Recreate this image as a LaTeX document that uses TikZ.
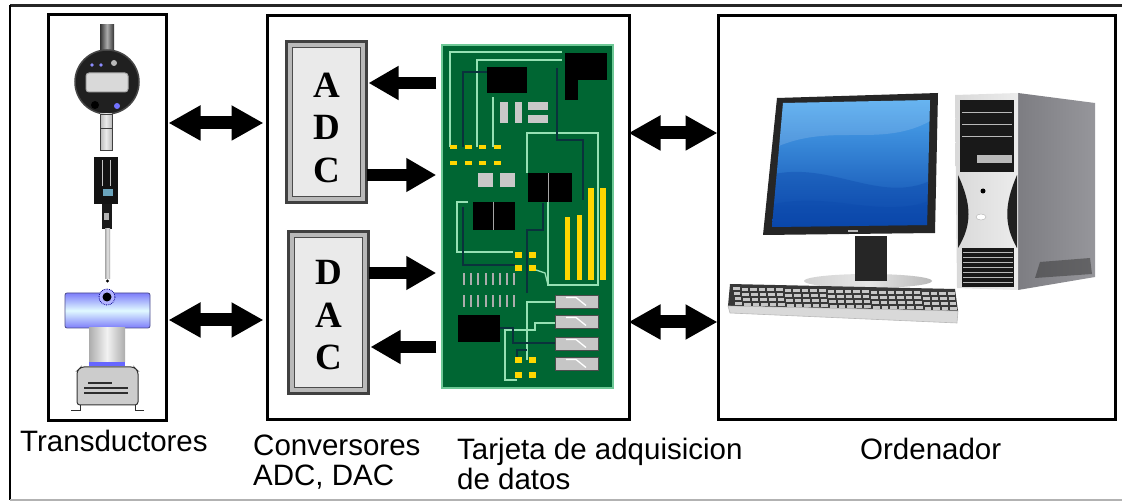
\documentclass[tikz,border=0pt]{standalone}
\usepackage{fontspec}
\setmainfont{Liberation Sans}
\newfontfamily\blockfont{Liberation Serif}
\usetikzlibrary{arrows.meta,calc}

\definecolor{pcbgreen}{RGB}{0,102,51}
\definecolor{pcbedge}{RGB}{110,200,150}
\definecolor{tracelight}{RGB}{150,225,180}
\definecolor{tracedark}{RGB}{10,50,60}
\definecolor{padyellow}{RGB}{255,214,0}
\definecolor{partgray}{RGB}{200,200,200}
\definecolor{boxfill}{RGB}{234,234,234}
\definecolor{screenlight}{RGB}{80,170,240}
\definecolor{screendark}{RGB}{10,70,170}
\definecolor{cylblue}{RGB}{125,125,250}
\definecolor{cylpale}{RGB}{225,250,255}
\definecolor{towerside}{RGB}{125,125,130}
\definecolor{towersidelight}{RGB}{150,150,155}

\begin{document}
\begin{tikzpicture}[x=1pt,y=-1pt,
  blockframe/.style={draw=black, line width=3pt, inner sep=0pt, outer sep=0pt},
  convbox/.style={draw=gray!50!black, line width=3pt, fill=gray!55, inner sep=0pt, outer sep=0pt},
  letters/.style={font=\blockfont\bfseries\fontsize{37}{42.5}\selectfont, align=center, inner sep=0pt},
  caption/.style={font=\fontsize{29.5}{29.5}\selectfont, inner sep=0pt, align=left},
  dblarrow/.style={line width=13pt, {Triangle[length=32pt,width=33pt]}-{Triangle[length=32pt,width=33pt]}},
  sglarrow/.style={line width=12pt, -{Triangle[length=30pt,width=32pt]}},
  chip/.style={fill=black},
  smallpart/.style={fill=partgray},
  pad/.style={fill=padyellow},
  ltrace/.style={draw=tracelight, line width=1.3pt},
  dtrace/.style={draw=tracedark, line width=1.1pt},
  resistor/.style={fill=gray!45, draw=gray!60!black, line width=0.8pt}]

\useasboundingbox (0,0) rectangle (1122,502);
\fill[white] (0,0) rectangle (1122,502);

% outer frame (right side runs past the page)
\draw[black!85, line width=3pt] (1124,6) -- (10,6);
\draw[black, line width=2.5pt] (10,5) -- (10,500);
\draw[gray!60, line width=1.2pt] (10,500) -- (1124,500);

% ---------- main blocks ----------
\node[blockframe, minimum width=118, minimum height=406] (trans) at (107.5,218) {};
\node[blockframe, minimum width=362, minimum height=404] (conv) at (448.5,217.5) {};
\node[blockframe, minimum width=397, minimum height=404] (pc) at (917,217.5) {};

\node[convbox, minimum width=80, minimum height=161] (adc) at (326.5,122) {};
\node[convbox, minimum width=80, minimum height=162] (dac) at (328.5,312.5) {};
\foreach \b in {adc,dac}{
  \filldraw[fill=boxfill, draw=gray!60!black, line width=1pt]
    ($(\b.north west)+(6,6)$) rectangle ($(\b.south east)+(-6,-6)$);
}
\node[letters] (adctxt) at ($(adc.center)+(0,5.5)$) {A\\D\\C};
\node[letters] (dactxt) at ($(dac.center)+(0,3)$) {D\\A\\C};

% ---------- data acquisition board ----------
\node[fill=pcbgreen, draw=pcbedge, line width=1.5pt, inner sep=0pt,
      minimum width=171, minimum height=343] (pcb) at (527.5,216.5) {};

% light traces
\draw[ltrace] (450,147) |- (562,52);
\draw[ltrace] (477,147) |- (562,60);
\draw[ltrace] (493,147) -- (493,97);
\draw[ltrace] (527,173) |- (598,133) -- (598,285) -| (548,202);
\draw[ltrace] (468,202) -| (457,252) -- (513,252);
\draw[ltrace] (536,270) -- (545,273) -- (548,285);
\draw[ltrace] (555,302) -| (527,360);
\draw[ltrace] (555,323) -- (535,323) -- (535,330) -- (505,330) -- (505,380) -- (517,380);
% dark traces
\draw[dtrace] (463,147) |- (487,72);
\draw[dtrace] (557,68) -- (557,140) -- (583,140) -- (583,200);
\draw[dtrace] (463,207) -- (463,265) -- (515,265);
\draw[dtrace] (543,203) -- (543,230) -- (527,230) -- (527,293);
\draw[dtrace] (500,328) -- (513,328) -- (513,343) -- (555,343);
\draw[dtrace] (517,360) -- (517,350) -- (527,350);

% chips
\fill[chip] (487,67) rectangle (527,93);
\fill[chip] (565,53) rectangle (607,80);
\fill[chip] (565,79) rectangle (578,100);
\fill[chip] (528,173) rectangle (572,202);
\draw[gray!70, line width=1pt] (548,173) -- (548,202);
\fill[chip] (473,202) rectangle (515,230);
\draw[gray!70, line width=1pt] (493,202) -- (493,230);
\fill[chip] (458,315) rectangle (500,342);

% small grey parts
\fill[smallpart] (500,102) rectangle (508,123);
\fill[smallpart] (515,102) rectangle (522,123);
\fill[smallpart] (528,102) rectangle (548,110);
\fill[smallpart] (528,115) rectangle (548,123);
\fill[smallpart] (478,173) rectangle (493,187);
\fill[smallpart] (500,173) rectangle (515,187);
\foreach \i in {0,...,7}{
  \fill[gray!65] ({463+\i*7.2},273) rectangle ({465+\i*7.2},285);
  \fill[gray!65] ({463+\i*7.2},295) rectangle ({465+\i*7.2},307);
}

% yellow pads
\foreach \x in {453,468,482,497}{
  \fill[pad] (\x-3.5,145) rectangle (\x+3.5,149.5);
  \fill[pad] (\x-3.5,161) rectangle (\x+3.5,165.5);
}
\foreach \x/\y in {518/255,532/255,518/268,532/268,518/360,532/360,518/375,532/375}{
  \fill[pad] (\x-3.5,\y-2.8) rectangle (\x+3.5,\y+2.8);
}
\fill[pad] (565,217) rectangle (570,280);
\fill[pad] (577,215) rectangle (582,280);
\fill[pad] (588,188) rectangle (594,280);
\fill[pad] (600,188) rectangle (606,280);

% resistors
\foreach \y in {295,315,337,357}{
  \filldraw[resistor] (555,\y) rectangle (598,\y+13);
  \draw[white, line width=1.3pt] (566,\y+2.5) -- (576,\y+2.5) -- (586,\y+10.5);
}

% ---------- transducers ----------
% dial gauge
\shade[left color=gray!40!black, right color=gray!40!black, middle color=gray!65] (100,25) rectangle (114,52);
\filldraw[fill=gray!25!black, draw=gray!55!black, line width=1.5pt] (107,82) circle (32);
\filldraw[fill=gray!30, draw=gray!70, line width=1pt, rounded corners=3pt] (86,73) rectangle (128,92);
\fill[blue!45!white] (92,65) circle (1.8) (101,65) circle (1.8);
\fill[gray!55] (114,63) circle (3);
\fill[black] (95,105) circle (4);
\fill[blue!55!white] (117,106) circle (3);
\shade[left color=gray!55, right color=gray!55, middle color=gray!15] (100,114) rectangle (112,150);
\draw[gray!50!black, line width=0.6pt] (100,128) -- (112,128) (100,114) rectangle (112,150);
% connector body
\fill[gray!15!black] (94,157) rectangle (118,204);
\draw[gray!45, line width=0.7pt] (102,160) -- (102,186) (110,160) -- (110,186);
\fill[cyan!45!gray] (103,189) rectangle (113,196);
\fill[gray!20!black] (102,204) rectangle (112,229);
\fill[gray!60] (104,213) rectangle (109,220);
\shade[left color=gray!70, right color=gray!70, middle color=gray!20] (105,229) rectangle (110,279);
\fill[black] (107.5,281) circle (1.7);
% transmitter housing
\shade[top color=cylblue, bottom color=cylblue, middle color=cylpale, rounded corners=2pt] (65,293) rectangle (150,328);
\draw[blue!35!black!70, line width=0.8pt, rounded corners=2pt] (65,293) rectangle (150,328);
\filldraw[fill=blue!30!white, draw=blue!55!black, densely dotted, line width=0.8pt] (107,297) circle (8);
\fill[black] (107,297) circle (4.5);
\shade[left color=gray!65, right color=gray!65, middle color=gray!10] (89,328) rectangle (125,362);
\fill[blue!60!white] (89,362) rectangle (125,366.5);
\filldraw[fill=gray!40, draw=gray!40!black, line width=1pt, rounded corners=3pt]
  (77,405) -- (77,371) -- (81,367) -- (134,367) -- (138,371) -- (138,405) -- cycle;
\draw[gray!35!black, line width=1.2pt] (88,383) -- (112,383) (84,388) -- (128,388) (84,393) -- (128,393);
\draw[gray!35!black, line width=1pt] (71,411) -- (80,411) -- (80,405) (144,411) -- (135,411) -- (135,405);

% ---------- computer ----------
% monitor
\fill[black!85] (777,98) -- (938,93) -- (935,233) -- (763,235) -- cycle;
\begin{scope}
  \clip (783,103) -- (930,100) -- (927,225) -- (772,227) -- cycle;
  \shade[top color=screenlight, bottom color=screendark] (770,98) rectangle (932,230);
  \fill[white, opacity=0.14] (770,98) -- (932,98) -- (932,120) .. controls (880,150) and (830,120) .. (770,150) -- cycle;
  \fill[screendark, opacity=0.35] (770,175) .. controls (830,160) and (880,205) .. (932,180) -- (932,230) -- (770,230) -- cycle;
  \fill[screendark, opacity=0.3] (770,205) .. controls (830,190) and (880,220) .. (932,200) -- (932,230) -- (770,230) -- cycle;
\end{scope}
\fill[gray!55] (848,230) rectangle (858,232);
% stand
\shade[left color=gray!35, right color=gray!55, middle color=gray!20] (868,281) ellipse (64 and 7);
\fill[black!85] (855,236) rectangle (887,281);
% keyboard
\fill[black!78] (730,284) -- (955,289) -- (958,311) -- (728,306) -- cycle;
\foreach \r in {0,...,3}{
  \foreach \c in {0,...,25}{
    \fill[gray!45] ({733+\c*8.6+\r*0.8},{287.5+\r*5+\c*0.19}) rectangle ++(6.5,3);
  }
}
\filldraw[fill=gray!30, draw=gray!55, line width=0.6pt] (728,306) -- (958,311) -- (957,323) -- (730,313) -- cycle;
% tower side
\shade[left color=towerside, right color=towersidelight] (1018,93) -- (1095,103) -- (1095,277) -- (1018,290) -- cycle;
\fill[gray!40!black, opacity=0.5] (1040,262) -- (1090,258) -- (1092,274) -- (1035,278) -- cycle;
% tower front
\shade[left color=gray!30, right color=gray!15] (955,95) -- (1018,93) -- (1018,290) -- (957,288) -- cycle;
\fill[gray!20!black] (960,100) rectangle (1014,172);
\foreach \y in {112,124,136}{ \draw[gray!55, line width=0.7pt] (962,\y) -- (1012,\y); }
\fill[gray!55] (977,155) rectangle (1012,163);
\fill[gray!25!black] (958,175) .. controls (972,205) and (972,225) .. (958,248) -- cycle;
\fill[gray!25!black] (1017,175) .. controls (1004,205) and (1004,225) .. (1017,248) -- cycle;
\fill[black] (983,191) circle (2.5);
\filldraw[fill=white, draw=gray!60] (981,217) ellipse (5 and 3);
\fill[gray!20!black] (962,248) rectangle (1014,287);
\foreach \y in {252,257,262,267,272,277,282}{ \draw[gray!55, line width=0.8pt] (963,\y) -- (1013,\y); }

% ---------- connections ----------
\coordinate (ra) at (0,123);
\coordinate (rb) at (0,320);
\coordinate (rc) at (0,133);
\coordinate (rd) at (0,322);
\coordinate (ya) at (0,83);
\coordinate (yb) at (0,175);
\coordinate (yc) at (0,273);
\coordinate (yd) at (0,347);

\draw[dblarrow, shorten <=2pt, shorten >=4pt] (trans.east |- ra) -- (conv.west |- ra);
\draw[dblarrow, shorten <=2pt, shorten >=4pt] (trans.east |- rb) -- (conv.west |- rb);
\draw[dblarrow, shorten <=-1pt, shorten >=1pt] (conv.east |- rc) -- (pc.west |- rc);
\draw[dblarrow, shorten <=-1pt, shorten >=1pt] (conv.east |- rd) -- (pc.west |- rd);

\draw[sglarrow, shorten <=5pt, shorten >=2pt] (pcb.west |- ya) -- (adc.east |- ya);
\draw[sglarrow, shorten <=0pt, shorten >=5pt] (adc.east |- yb) -- (pcb.west |- yb);
\draw[sglarrow, shorten <=0pt, shorten >=5pt] (dac.east |- yc) -- (pcb.west |- yc);
\draw[sglarrow, shorten <=5pt, shorten >=2pt] (pcb.west |- yd) -- (dac.east |- yd);

% ---------- captions ----------
\node[caption, anchor=base west] (captrans) at (20,452) {Transductores};
\node[caption, anchor=north west] (capconv) at (253,435) {Conversores\\ADC, DAC};
\node[caption, anchor=north west] (capcard) at (457,438) {Tarjeta de adquisicion\\de datos};
\node[caption, anchor=base west] (cappc) at (860,460) {Ordenador};

\end{tikzpicture}
\end{document}
